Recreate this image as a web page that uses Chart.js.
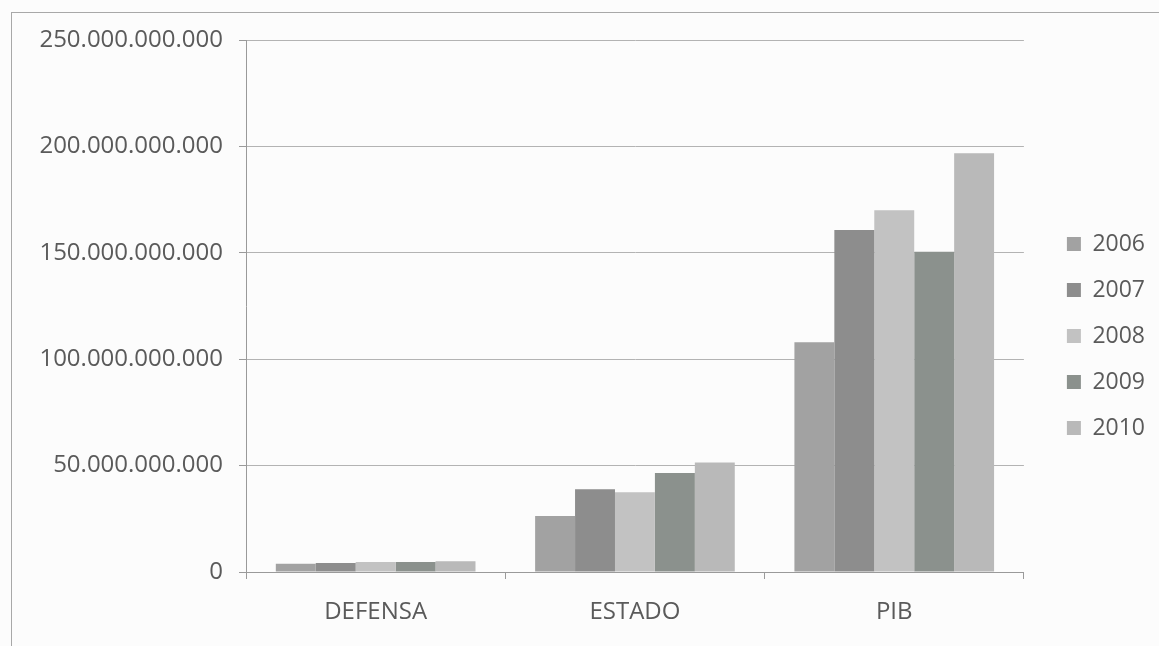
<!DOCTYPE html>
<html>
<head>
<meta charset="utf-8">
<script src="https://cdn.jsdelivr.net/npm/chart.js@4/dist/chart.umd.min.js"></script>
<style>
  html, body { margin: 0; padding: 0; background: #fcfcfc; }
  #frame { position: absolute; left: 11px; top: 12px; width: 1160px; height: 650px; border: 1px solid #a8a8a8; }
  #wrap { position: absolute; left: 0; top: 0; width: 1159px; height: 646px; }
</style>
</head>
<body>
<div id="frame"></div>
<div id="wrap"><canvas id="chart"></canvas></div>
<script>
const categories = ['DEFENSA', 'ESTADO', 'PIB']
const years = ['2006', '2007', '2008', '2009', '2010']

// valores
const v2006 = [3.9e9, 26.3e9, 108e9]
const v2007 = [4.2e9, 38.9e9, 160.7e9]
const v2008 = [4.7e9, 37.5e9, 170e9]
const v2009 = [4.7e9, 46.5e9, 150.5e9]
const v2010 = [5.0e9, 51.4e9, 196.8e9]

const yTicks = [0, 50e9, 100e9, 150e9, 200e9, 250e9]

const colors = ['#a2a2a2', '#8d8d8d', '#c2c2c2', '#8b918d', '#b9b9b9']
const series = [v2006, v2007, v2008, v2009, v2010]

function fmt(v)
{
    return String(Math.round(v)).replace(/\B(?=(\d{3})+(?!\d))/g, '.')
}

const font = {family: "'Open Sans', sans-serif", size: 24}
const legendFont = {family: "'Open Sans', sans-serif", size: 23}

// mover la leyenda a su sitio
const legendShift = {
    id: 'legendShift',
    afterLayout(chart) {
        const lg = chart.legend
        lg.left += 20
        lg.right += 20
        lg.top -= 7
        lg.bottom -= 7
    }
}

new Chart(document.getElementById('chart'), {
    type: 'bar',
    data: {
        labels: categories,
        datasets: years.map((y, i) => ({
            label: y,
            data: series[i],
            backgroundColor: colors[i],
            borderWidth: 0,
            categoryPercentage: 0.77,
            barPercentage: 1
        }))
    },
    options: {
        responsive: true,
        maintainAspectRatio: false,
        animation: false,
        layout: {padding: {top: 40, right: 24, bottom: 0, left: 0}},
        plugins: {
            legend: {
                position: 'right',
                labels: {
                    font: legendFont,
                    color: '#5a5a5a',
                    boxWidth: 14,
                    boxHeight: 14,
                    padding: 23
                }
            },
            tooltip: {enabled: false}
        },
        scales: {
            x: {
                grid: {
                    drawOnChartArea: false,
                    tickLength: 7,
                    tickColor: '#9a9a9a'
                },
                border: {color: '#9a9a9a'},
                ticks: {font: font, color: '#5a5a5a', padding: 19},
                afterFit: s => { s.height = 74 }
            },
            y: {
                min: 0,
                max: 250e9,
                afterBuildTicks: s => { s.ticks = yTicks.map(v => ({value: v})) },
                grid: {
                    color: '#b3b3b3',
                    tickLength: 7,
                    tickColor: '#9a9a9a'
                },
                border: {color: '#9a9a9a'},
                ticks: {font: font, color: '#5a5a5a', padding: 16, callback: v => fmt(v)},
                afterFit: s => { s.width = 246 }
            }
        }
    },
    plugins: [legendShift]
})
</script>
</body>
</html>
